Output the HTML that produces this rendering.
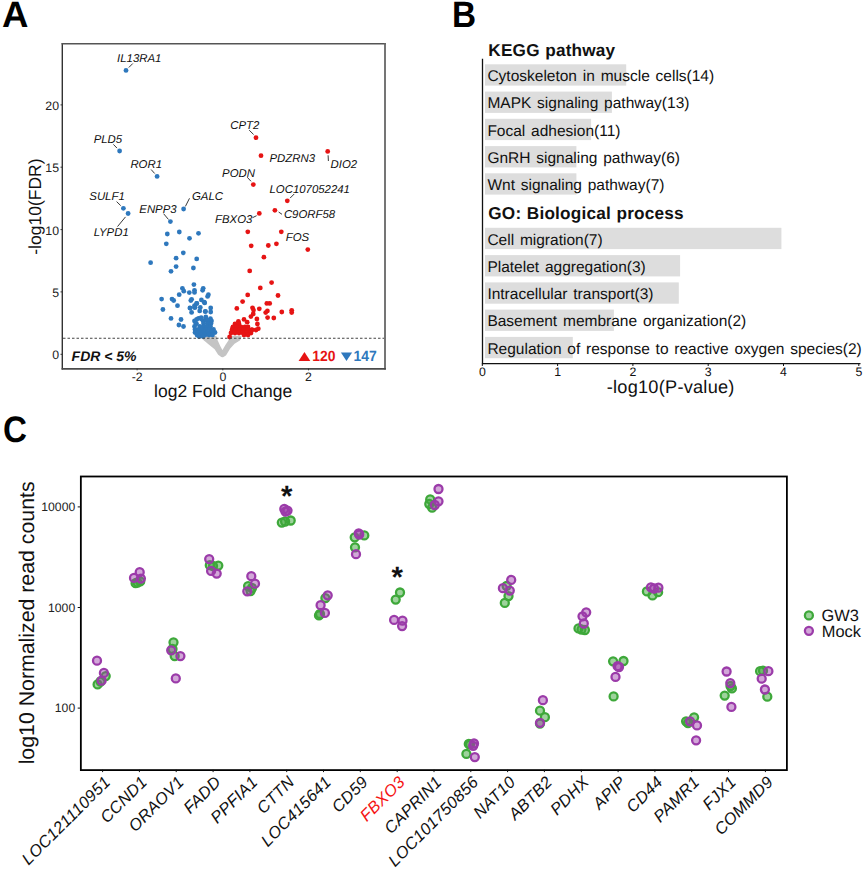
<!DOCTYPE html>
<html><head><meta charset="utf-8"><title>figure</title>
<style>
html,body{margin:0;padding:0;background:#fff;}
body{width:865px;height:870px;overflow:hidden;}
svg{display:block;font-family:"Liberation Sans",sans-serif;text-rendering:geometricPrecision;}
</style></head>
<body>
<svg width="865" height="870" viewBox="0 0 865 870">
<rect width="865" height="870" fill="#fff"/>
<text transform="translate(2.1,26.8) scale(0.995,1)" font-size="36.8" font-weight="bold">A</text>
<path d="M203.3,338.9 L205,336.2 L215.8,336.4 L217.2,341 L220,347.2 L222.4,351.7 L226.2,345.1 L229,341 L231.1,336.6 L240.8,336.6 L239.4,339.9 L233.8,343.4 L229.7,347.9 L225.5,354.8 L222.7,356.6 L221.4,356.2 L218.6,354.1 L215.1,348.6 L208.9,343.7 Z" fill="#c4c4c4" stroke="#c4c4c4" stroke-width="1.5" stroke-linejoin="round"/>
<circle cx="126" cy="70.4" r="2.4" fill="#2e78bd"/>
<circle cx="119.6" cy="151" r="2.4" fill="#2e78bd"/>
<circle cx="157.1" cy="176.4" r="2.4" fill="#2e78bd"/>
<circle cx="123.4" cy="208.3" r="2.4" fill="#2e78bd"/>
<circle cx="128.1" cy="213.5" r="2.4" fill="#2e78bd"/>
<circle cx="183.6" cy="209" r="2.4" fill="#2e78bd"/>
<circle cx="170.4" cy="221.6" r="2.4" fill="#2e78bd"/>
<circle cx="167.3" cy="234" r="2.4" fill="#2e78bd"/>
<circle cx="179.3" cy="232" r="2.4" fill="#2e78bd"/>
<circle cx="189.5" cy="238.3" r="2.4" fill="#2e78bd"/>
<circle cx="198.5" cy="233.3" r="2.4" fill="#2e78bd"/>
<circle cx="166.3" cy="243.8" r="2.4" fill="#2e78bd"/>
<circle cx="183.3" cy="252.8" r="2.4" fill="#2e78bd"/>
<circle cx="150.6" cy="262.7" r="2.4" fill="#2e78bd"/>
<circle cx="176.1" cy="258.2" r="2.4" fill="#2e78bd"/>
<circle cx="196.7" cy="258.9" r="2.4" fill="#2e78bd"/>
<circle cx="176.1" cy="266.6" r="2.4" fill="#2e78bd"/>
<circle cx="171" cy="271.3" r="2.4" fill="#2e78bd"/>
<circle cx="193.4" cy="268" r="2.4" fill="#2e78bd"/>
<circle cx="193.9" cy="284.6" r="2.4" fill="#2e78bd"/>
<circle cx="182.4" cy="288.3" r="2.4" fill="#2e78bd"/>
<circle cx="183.8" cy="291.2" r="2.4" fill="#2e78bd"/>
<circle cx="179.2" cy="294.7" r="2.4" fill="#2e78bd"/>
<circle cx="189.3" cy="292.6" r="2.4" fill="#2e78bd"/>
<circle cx="194.5" cy="290.3" r="2.4" fill="#2e78bd"/>
<circle cx="194.5" cy="292.4" r="2.4" fill="#2e78bd"/>
<circle cx="203.2" cy="288.3" r="2.4" fill="#2e78bd"/>
<circle cx="202.6" cy="290.3" r="2.4" fill="#2e78bd"/>
<circle cx="208.4" cy="294.7" r="2.4" fill="#2e78bd"/>
<circle cx="207.6" cy="296.4" r="2.4" fill="#2e78bd"/>
<circle cx="161.6" cy="299.1" r="2.4" fill="#2e78bd"/>
<circle cx="172" cy="299.1" r="2.4" fill="#2e78bd"/>
<circle cx="173.7" cy="300.5" r="2.4" fill="#2e78bd"/>
<circle cx="191.6" cy="299.3" r="2.4" fill="#2e78bd"/>
<circle cx="201.4" cy="299.9" r="2.4" fill="#2e78bd"/>
<circle cx="204.3" cy="302.2" r="2.4" fill="#2e78bd"/>
<circle cx="196.8" cy="303.4" r="2.4" fill="#2e78bd"/>
<circle cx="194.5" cy="305.7" r="2.4" fill="#2e78bd"/>
<circle cx="177.5" cy="305.7" r="2.4" fill="#2e78bd"/>
<circle cx="162.9" cy="309.5" r="2.4" fill="#2e78bd"/>
<circle cx="189.9" cy="308" r="2.4" fill="#2e78bd"/>
<circle cx="195.1" cy="307.4" r="2.4" fill="#2e78bd"/>
<circle cx="200.3" cy="307.4" r="2.4" fill="#2e78bd"/>
<circle cx="199.7" cy="310.9" r="2.4" fill="#2e78bd"/>
<circle cx="191.6" cy="312.4" r="2.4" fill="#2e78bd"/>
<circle cx="205.5" cy="311.4" r="2.4" fill="#2e78bd"/>
<circle cx="210.7" cy="308" r="2.4" fill="#2e78bd"/>
<circle cx="210.7" cy="312" r="2.4" fill="#2e78bd"/>
<circle cx="171" cy="318.4" r="2.4" fill="#2e78bd"/>
<circle cx="181" cy="319.5" r="2.4" fill="#2e78bd"/>
<circle cx="178.9" cy="325" r="2.4" fill="#2e78bd"/>
<circle cx="183.5" cy="326.5" r="2.4" fill="#2e78bd"/>
<circle cx="190.8" cy="300.6" r="2.4" fill="#2e78bd"/>
<circle cx="196.6" cy="303.5" r="2.4" fill="#2e78bd"/>
<circle cx="204.7" cy="302.9" r="2.4" fill="#2e78bd"/>
<circle cx="190.2" cy="308.1" r="2.4" fill="#2e78bd"/>
<circle cx="194.5" cy="307.5" r="2.4" fill="#2e78bd"/>
<circle cx="205.2" cy="311.6" r="2.4" fill="#2e78bd"/>
<circle cx="203.3" cy="321.2" r="2.4" fill="#2e78bd"/>
<circle cx="196.5" cy="323.8" r="2.4" fill="#2e78bd"/>
<circle cx="201.5" cy="319" r="2.4" fill="#2e78bd"/>
<circle cx="198.5" cy="318.3" r="2.4" fill="#2e78bd"/>
<circle cx="206" cy="319.5" r="2.4" fill="#2e78bd"/>
<circle cx="209" cy="320.5" r="2.4" fill="#2e78bd"/>
<circle cx="196.6" cy="319.5" r="2.4" fill="#2e78bd"/>
<circle cx="201.2" cy="317.6" r="2.4" fill="#2e78bd"/>
<circle cx="205.8" cy="317.0" r="2.4" fill="#2e78bd"/>
<circle cx="210.4" cy="318.6" r="2.4" fill="#2e78bd"/>
<circle cx="194.5" cy="321" r="2.4" fill="#2e78bd"/>
<circle cx="207.5" cy="321" r="2.4" fill="#2e78bd"/>
<circle cx="211.5" cy="321" r="2.4" fill="#2e78bd"/>
<circle cx="195.8" cy="323.5" r="2.4" fill="#2e78bd"/>
<circle cx="203.6" cy="323.5" r="2.4" fill="#2e78bd"/>
<circle cx="207.5" cy="323.5" r="2.4" fill="#2e78bd"/>
<circle cx="211" cy="323.5" r="2.4" fill="#2e78bd"/>
<circle cx="194.5" cy="326.5" r="2.4" fill="#2e78bd"/>
<circle cx="199.8" cy="326.5" r="2.4" fill="#2e78bd"/>
<circle cx="203.5" cy="326.5" r="2.4" fill="#2e78bd"/>
<circle cx="207" cy="326.5" r="2.4" fill="#2e78bd"/>
<circle cx="210.5" cy="326.5" r="2.4" fill="#2e78bd"/>
<circle cx="195" cy="329.5" r="2.4" fill="#2e78bd"/>
<circle cx="198.5" cy="329.5" r="2.4" fill="#2e78bd"/>
<circle cx="202" cy="329.5" r="2.4" fill="#2e78bd"/>
<circle cx="206" cy="329.5" r="2.4" fill="#2e78bd"/>
<circle cx="210" cy="329.5" r="2.4" fill="#2e78bd"/>
<circle cx="213.5" cy="329.5" r="2.4" fill="#2e78bd"/>
<circle cx="195" cy="332.5" r="2.4" fill="#2e78bd"/>
<circle cx="199" cy="332.5" r="2.4" fill="#2e78bd"/>
<circle cx="203" cy="332.5" r="2.4" fill="#2e78bd"/>
<circle cx="207" cy="332.5" r="2.4" fill="#2e78bd"/>
<circle cx="211" cy="332.5" r="2.4" fill="#2e78bd"/>
<circle cx="215" cy="332.5" r="2.4" fill="#2e78bd"/>
<circle cx="197" cy="335" r="2.4" fill="#2e78bd"/>
<circle cx="201" cy="335" r="2.4" fill="#2e78bd"/>
<circle cx="205" cy="335" r="2.4" fill="#2e78bd"/>
<circle cx="209" cy="335" r="2.4" fill="#2e78bd"/>
<circle cx="212.5" cy="335" r="2.4" fill="#2e78bd"/>
<circle cx="199" cy="336.5" r="2.4" fill="#2e78bd"/>
<circle cx="203" cy="336.5" r="2.4" fill="#2e78bd"/>
<circle cx="256" cy="137.7" r="2.4" fill="#e61414"/>
<circle cx="261" cy="155.7" r="2.4" fill="#e61414"/>
<circle cx="327.7" cy="151.4" r="2.4" fill="#e61414"/>
<circle cx="253.3" cy="184.6" r="2.4" fill="#e61414"/>
<circle cx="287.3" cy="200.8" r="2.4" fill="#e61414"/>
<circle cx="259.3" cy="213.4" r="2.4" fill="#e61414"/>
<circle cx="274.9" cy="210.3" r="2.4" fill="#e61414"/>
<circle cx="247.8" cy="231.8" r="2.4" fill="#e61414"/>
<circle cx="281.3" cy="231.8" r="2.4" fill="#e61414"/>
<circle cx="251.2" cy="245.8" r="2.4" fill="#e61414"/>
<circle cx="268.3" cy="245.5" r="2.4" fill="#e61414"/>
<circle cx="276.4" cy="243.8" r="2.4" fill="#e61414"/>
<circle cx="307.8" cy="249.6" r="2.4" fill="#e61414"/>
<circle cx="263.9" cy="257.2" r="2.4" fill="#e61414"/>
<circle cx="249.7" cy="270.9" r="2.4" fill="#e61414"/>
<circle cx="271.6" cy="282.6" r="2.4" fill="#e61414"/>
<circle cx="260.3" cy="287.9" r="2.4" fill="#e61414"/>
<circle cx="247.7" cy="294.9" r="2.4" fill="#e61414"/>
<circle cx="278" cy="295.5" r="2.4" fill="#e61414"/>
<circle cx="242.6" cy="301.6" r="2.4" fill="#e61414"/>
<circle cx="266.8" cy="303.4" r="2.4" fill="#e61414"/>
<circle cx="269.7" cy="303.4" r="2.4" fill="#e61414"/>
<circle cx="236.8" cy="308.4" r="2.4" fill="#e61414"/>
<circle cx="252.5" cy="307.8" r="2.4" fill="#e61414"/>
<circle cx="259.3" cy="308.8" r="2.4" fill="#e61414"/>
<circle cx="253.5" cy="310" r="2.4" fill="#e61414"/>
<circle cx="267.4" cy="310.9" r="2.4" fill="#e61414"/>
<circle cx="265.7" cy="312.6" r="2.4" fill="#e61414"/>
<circle cx="281.8" cy="312" r="2.4" fill="#e61414"/>
<circle cx="291.7" cy="310.3" r="2.4" fill="#e61414"/>
<circle cx="291.7" cy="312.6" r="2.4" fill="#e61414"/>
<circle cx="267.6" cy="317.6" r="2.4" fill="#e61414"/>
<circle cx="273.8" cy="318" r="2.4" fill="#e61414"/>
<circle cx="253.2" cy="313.9" r="2.4" fill="#e61414"/>
<circle cx="250.9" cy="316.6" r="2.4" fill="#e61414"/>
<circle cx="256.9" cy="319" r="2.4" fill="#e61414"/>
<circle cx="244" cy="319.4" r="2.4" fill="#e61414"/>
<circle cx="247.2" cy="322.2" r="2.4" fill="#e61414"/>
<circle cx="238.4" cy="321.3" r="2.4" fill="#e61414"/>
<circle cx="257.4" cy="324" r="2.4" fill="#e61414"/>
<circle cx="258.3" cy="328.7" r="2.4" fill="#e61414"/>
<circle cx="251.8" cy="329.6" r="2.4" fill="#e61414"/>
<circle cx="232.9" cy="327.3" r="2.4" fill="#e61414"/>
<circle cx="229.6" cy="337" r="2.4" fill="#e61414"/>
<circle cx="235" cy="324" r="2.4" fill="#e61414"/>
<circle cx="239" cy="324" r="2.4" fill="#e61414"/>
<circle cx="233" cy="327" r="2.4" fill="#e61414"/>
<circle cx="237" cy="327" r="2.4" fill="#e61414"/>
<circle cx="241" cy="327" r="2.4" fill="#e61414"/>
<circle cx="245" cy="327" r="2.4" fill="#e61414"/>
<circle cx="248" cy="327" r="2.4" fill="#e61414"/>
<circle cx="232" cy="330" r="2.4" fill="#e61414"/>
<circle cx="236" cy="330" r="2.4" fill="#e61414"/>
<circle cx="240" cy="330" r="2.4" fill="#e61414"/>
<circle cx="244" cy="330" r="2.4" fill="#e61414"/>
<circle cx="248" cy="330" r="2.4" fill="#e61414"/>
<circle cx="252" cy="330" r="2.4" fill="#e61414"/>
<circle cx="256" cy="330" r="2.4" fill="#e61414"/>
<circle cx="231" cy="333" r="2.4" fill="#e61414"/>
<circle cx="235" cy="333" r="2.4" fill="#e61414"/>
<circle cx="239" cy="333" r="2.4" fill="#e61414"/>
<circle cx="243" cy="333" r="2.4" fill="#e61414"/>
<circle cx="247" cy="333" r="2.4" fill="#e61414"/>
<circle cx="251" cy="333" r="2.4" fill="#e61414"/>
<circle cx="244" cy="335" r="2.4" fill="#e61414"/>
<circle cx="248" cy="335" r="2.4" fill="#e61414"/>
<line x1="63" y1="338.2" x2="384" y2="338.2" stroke="#444" stroke-width="1.1" stroke-dasharray="2.5 2"/>
<line x1="62.3" y1="43" x2="62.3" y2="369.6" stroke="#333" stroke-width="1.4"/>
<line x1="61.6" y1="43.7" x2="385.9" y2="43.7" stroke="#555" stroke-width="1.4"/>
<line x1="385" y1="43" x2="385" y2="369.6" stroke="#666" stroke-width="1.8"/>
<line x1="61.6" y1="368.9" x2="385.9" y2="368.9" stroke="#4a4a4a" stroke-width="1.8"/>
<line x1="60.5" y1="354.3" x2="62.3" y2="354.3" stroke="#333" stroke-width="1"/>
<text x="59" y="359.2" font-size="12.3" text-anchor="end" fill="#222">0</text>
<line x1="60.5" y1="291.9" x2="62.3" y2="291.9" stroke="#333" stroke-width="1"/>
<text x="59" y="296.8" font-size="12.3" text-anchor="end" fill="#222">5</text>
<line x1="60.5" y1="229.6" x2="62.3" y2="229.6" stroke="#333" stroke-width="1"/>
<text x="59" y="234.5" font-size="12.3" text-anchor="end" fill="#222">10</text>
<line x1="60.5" y1="167.2" x2="62.3" y2="167.2" stroke="#333" stroke-width="1"/>
<text x="59" y="172.2" font-size="12.3" text-anchor="end" fill="#222">15</text>
<line x1="60.5" y1="104.9" x2="62.3" y2="104.9" stroke="#333" stroke-width="1"/>
<text x="59" y="109.8" font-size="12.3" text-anchor="end" fill="#222">20</text>
<line x1="137.1" y1="368.5" x2="137.1" y2="370.3" stroke="#333" stroke-width="1"/>
<text x="137.1" y="380.8" font-size="12.3" text-anchor="middle" fill="#222">-2</text>
<line x1="222.8" y1="368.5" x2="222.8" y2="370.3" stroke="#333" stroke-width="1"/>
<text x="222.8" y="380.8" font-size="12.3" text-anchor="middle" fill="#222">0</text>
<line x1="308.5" y1="368.5" x2="308.5" y2="370.3" stroke="#333" stroke-width="1"/>
<text x="308.5" y="380.8" font-size="12.3" text-anchor="middle" fill="#222">2</text>
<text x="223.2" y="396.5" font-size="17.5" text-anchor="middle" fill="#111">log2 Fold Change</text>
<text transform="translate(40.5,206.6) rotate(-90)" font-size="17.5" text-anchor="middle" fill="#111">-log10(FDR)</text>
<text x="117.1" y="62.1" font-size="11.4" font-style="italic" fill="#111">IL13RA1</text>
<text x="93.7" y="142.5" font-size="11.4" font-style="italic" fill="#111">PLD5</text>
<text x="130.4" y="168.1" font-size="11.4" font-style="italic" fill="#111">ROR1</text>
<text x="89.3" y="200.1" font-size="11.4" font-style="italic" fill="#111">SULF1</text>
<text x="93.7" y="235.8" font-size="11.4" font-style="italic" fill="#111">LYPD1</text>
<text x="139.3" y="213.1" font-size="11.4" font-style="italic" fill="#111">ENPP3</text>
<text x="192.0" y="199.8" font-size="11.4" font-style="italic" fill="#111">GALC</text>
<text x="230.3" y="129.4" font-size="11.4" font-style="italic" fill="#111">CPT2</text>
<text x="269.5" y="162.4" font-size="11.4" font-style="italic" fill="#111">PDZRN3</text>
<text x="330.5" y="167.9" font-size="11.4" font-style="italic" fill="#111">DIO2</text>
<text x="222.1" y="177.0" font-size="11.4" font-style="italic" fill="#111">PODN</text>
<text x="269.5" y="193.4" font-size="11.4" font-style="italic" fill="#111">LOC107052241</text>
<text x="215.0" y="222.8" font-size="11.4" font-style="italic" fill="#111">FBXO3</text>
<text x="283.9" y="217.7" font-size="11.4" font-style="italic" fill="#111">C9ORF58</text>
<text x="285.8" y="240.8" font-size="11.4" font-style="italic" fill="#111">FOS</text>
<line x1="128.8" y1="67.5" x2="132.8" y2="63.5" stroke="#222" stroke-width="0.9"/>
<line x1="113.4" y1="144.4" x2="117" y2="148.1" stroke="#222" stroke-width="0.9"/>
<line x1="151.1" y1="169.5" x2="154.7" y2="173.5" stroke="#222" stroke-width="0.9"/>
<line x1="116.6" y1="201.6" x2="120.7" y2="205.6" stroke="#222" stroke-width="0.9"/>
<line x1="117.5" y1="226.6" x2="125.5" y2="216.9" stroke="#222" stroke-width="0.9"/>
<line x1="163.6" y1="213.7" x2="168.4" y2="219.4" stroke="#222" stroke-width="0.9"/>
<line x1="185.4" y1="206.4" x2="189.5" y2="198.3" stroke="#222" stroke-width="0.9"/>
<line x1="290.1" y1="198.1" x2="294.2" y2="194" stroke="#222" stroke-width="0.9"/>
<line x1="278.6" y1="212" x2="282" y2="214.3" stroke="#222" stroke-width="0.9"/>
<line x1="252.5" y1="217.7" x2="256.6" y2="215.7" stroke="#222" stroke-width="0.9"/>
<line x1="249.2" y1="130.2" x2="253.6" y2="134.5" stroke="#222" stroke-width="0.9"/>
<line x1="328.1" y1="155.3" x2="328.4" y2="161" stroke="#222" stroke-width="0.9"/>
<line x1="247.2" y1="177.2" x2="251" y2="181.3" stroke="#222" stroke-width="0.9"/>
<text x="71.6" y="360.6" font-size="14" font-weight="bold" font-style="italic" fill="#111">FDR &lt; 5%</text>
<path d="M298.6,361 L304.45,352 L310.3,361 Z" fill="#e61414"/>
<text transform="translate(312.3,360.8) scale(0.94,1)" font-size="14.8" font-weight="bold" fill="#e61414">120</text>
<path d="M340.9,352.4 L352.1,352.4 L346.5,361 Z" fill="#2e78bd"/>
<text transform="translate(353.6,360.8) scale(0.94,1)" font-size="14.8" font-weight="bold" fill="#2e78bd">147</text>
<text transform="translate(452,26.8) scale(0.905,1)" font-size="36.8" font-weight="bold">B</text>
<text x="488.3" y="55.6" font-size="17.2" font-weight="bold" letter-spacing="0.2" word-spacing="0.5" fill="#111">KEGG pathway</text>
<rect x="485" y="64.3" width="141.2" height="21.3" fill="#dddddd"/>
<rect x="485" y="91.6" width="126.9" height="21.3" fill="#dddddd"/>
<rect x="485" y="118.8" width="106.1" height="21.3" fill="#dddddd"/>
<rect x="485" y="146.1" width="91.4" height="21.3" fill="#dddddd"/>
<rect x="485" y="173.3" width="91.4" height="21.3" fill="#dddddd"/>
<text x="488.3" y="219.2" font-size="17.2" font-weight="bold" letter-spacing="0.2" word-spacing="0.5" fill="#111">GO: Biological process</text>
<rect x="485" y="227.8" width="296.4" height="21.3" fill="#dddddd"/>
<rect x="485" y="255.1" width="195.1" height="21.3" fill="#dddddd"/>
<rect x="485" y="282.4" width="193.8" height="21.3" fill="#dddddd"/>
<rect x="485" y="309.6" width="128.9" height="21.3" fill="#dddddd"/>
<rect x="485" y="336.9" width="87.8" height="21.3" fill="#dddddd"/>
<text x="487.4" y="81.1" font-size="15.5" word-spacing="1.5" fill="#111">Cytoskeleton in muscle cells(14)</text>
<text x="487.4" y="108.3" font-size="15.5" word-spacing="1.5" fill="#111">MAPK signaling pathway(13)</text>
<text x="487.4" y="135.6" font-size="15.5" word-spacing="1.5" fill="#111">Focal adhesion(11)</text>
<text x="487.4" y="162.8" font-size="15.5" word-spacing="1.5" fill="#111">GnRH signaling pathway(6)</text>
<text x="487.4" y="190.1" font-size="15.5" word-spacing="1.5" fill="#111">Wnt signaling pathway(7)</text>
<text x="487.4" y="244.6" font-size="15.5" word-spacing="1.5" fill="#111">Cell migration(7)</text>
<text x="487.4" y="271.9" font-size="15.5" word-spacing="1.5" fill="#111">Platelet aggregation(3)</text>
<text x="487.4" y="299.1" font-size="15.5" word-spacing="1.5" fill="#111">Intracellular transport(3)</text>
<text x="487.4" y="326.4" font-size="15.5" word-spacing="1.5" fill="#111">Basement membrane organization(2)</text>
<text x="487.4" y="353.6" font-size="15.5" word-spacing="1.5" fill="#111">Regulation of response to reactive oxygen species(2)</text>
<line x1="482.5" y1="58.7" x2="482.5" y2="364.3" stroke="#111" stroke-width="1.3"/>
<line x1="481.9" y1="363.7" x2="860.5" y2="363.7" stroke="#111" stroke-width="1.3"/>
<line x1="482.3" y1="363.7" x2="482.3" y2="366" stroke="#111" stroke-width="1"/>
<text x="482.3" y="376.3" font-size="12.3" text-anchor="middle" fill="#111">0</text>
<line x1="557.6" y1="363.7" x2="557.6" y2="366" stroke="#111" stroke-width="1"/>
<text x="557.6" y="376.3" font-size="12.3" text-anchor="middle" fill="#111">1</text>
<line x1="632.9" y1="363.7" x2="632.9" y2="366" stroke="#111" stroke-width="1"/>
<text x="632.9" y="376.3" font-size="12.3" text-anchor="middle" fill="#111">2</text>
<line x1="708.2" y1="363.7" x2="708.2" y2="366" stroke="#111" stroke-width="1"/>
<text x="708.2" y="376.3" font-size="12.3" text-anchor="middle" fill="#111">3</text>
<line x1="783.5" y1="363.7" x2="783.5" y2="366" stroke="#111" stroke-width="1"/>
<text x="783.5" y="376.3" font-size="12.3" text-anchor="middle" fill="#111">4</text>
<line x1="858.8" y1="363.7" x2="858.8" y2="366" stroke="#111" stroke-width="1"/>
<text x="858.8" y="376.3" font-size="12.3" text-anchor="middle" fill="#111">5</text>
<text x="670.7" y="392.7" font-size="18.2" letter-spacing="0.24" text-anchor="middle" fill="#111">-log10(P-value)</text>
<text transform="translate(3,441.9) scale(0.9,1)" font-size="36.8" font-weight="bold">C</text>
<circle cx="97.6" cy="684.4" r="4.0" fill="#3ea83a" fill-opacity="0.5" stroke="#3ea83a" stroke-width="2.3"/>
<circle cx="100.5" cy="681.5" r="4.0" fill="#3ea83a" fill-opacity="0.5" stroke="#3ea83a" stroke-width="2.3"/>
<circle cx="105.7" cy="676.1" r="4.0" fill="#3ea83a" fill-opacity="0.5" stroke="#3ea83a" stroke-width="2.3"/>
<circle cx="97" cy="660.7" r="4.0" fill="#9b3ba9" fill-opacity="0.45" stroke="#9b3ba9" stroke-width="2.3"/>
<circle cx="103.9" cy="672.9" r="4.0" fill="#9b3ba9" fill-opacity="0.45" stroke="#9b3ba9" stroke-width="2.3"/>
<circle cx="101.6" cy="680.7" r="4.0" fill="#9b3ba9" fill-opacity="0.45" stroke="#9b3ba9" stroke-width="2.3"/>
<circle cx="135.6" cy="583.2" r="4.0" fill="#3ea83a" fill-opacity="0.5" stroke="#3ea83a" stroke-width="2.3"/>
<circle cx="140.2" cy="581.4" r="4.0" fill="#3ea83a" fill-opacity="0.5" stroke="#3ea83a" stroke-width="2.3"/>
<circle cx="137.5" cy="582.5" r="4.0" fill="#3ea83a" fill-opacity="0.5" stroke="#3ea83a" stroke-width="2.3"/>
<circle cx="139.7" cy="572.2" r="4.0" fill="#9b3ba9" fill-opacity="0.45" stroke="#9b3ba9" stroke-width="2.3"/>
<circle cx="134" cy="577.9" r="4.0" fill="#9b3ba9" fill-opacity="0.45" stroke="#9b3ba9" stroke-width="2.3"/>
<circle cx="140.9" cy="578.6" r="4.0" fill="#9b3ba9" fill-opacity="0.45" stroke="#9b3ba9" stroke-width="2.3"/>
<circle cx="173.5" cy="642.3" r="4.0" fill="#3ea83a" fill-opacity="0.5" stroke="#3ea83a" stroke-width="2.3"/>
<circle cx="174.7" cy="656.1" r="4.0" fill="#3ea83a" fill-opacity="0.5" stroke="#3ea83a" stroke-width="2.3"/>
<circle cx="172.5" cy="649" r="4.0" fill="#3ea83a" fill-opacity="0.5" stroke="#3ea83a" stroke-width="2.3"/>
<circle cx="171.2" cy="650.3" r="4.0" fill="#9b3ba9" fill-opacity="0.45" stroke="#9b3ba9" stroke-width="2.3"/>
<circle cx="180.4" cy="656.1" r="4.0" fill="#9b3ba9" fill-opacity="0.45" stroke="#9b3ba9" stroke-width="2.3"/>
<circle cx="175.8" cy="678.4" r="4.0" fill="#9b3ba9" fill-opacity="0.45" stroke="#9b3ba9" stroke-width="2.3"/>
<circle cx="209.8" cy="565.2" r="4.0" fill="#3ea83a" fill-opacity="0.5" stroke="#3ea83a" stroke-width="2.3"/>
<circle cx="218.3" cy="565.6" r="4.0" fill="#3ea83a" fill-opacity="0.5" stroke="#3ea83a" stroke-width="2.3"/>
<circle cx="213" cy="566" r="4.0" fill="#3ea83a" fill-opacity="0.5" stroke="#3ea83a" stroke-width="2.3"/>
<circle cx="209.2" cy="559.1" r="4.0" fill="#9b3ba9" fill-opacity="0.45" stroke="#9b3ba9" stroke-width="2.3"/>
<circle cx="211.1" cy="570.9" r="4.0" fill="#9b3ba9" fill-opacity="0.45" stroke="#9b3ba9" stroke-width="2.3"/>
<circle cx="216.7" cy="573.6" r="4.0" fill="#9b3ba9" fill-opacity="0.45" stroke="#9b3ba9" stroke-width="2.3"/>
<circle cx="248.1" cy="586.1" r="4.0" fill="#3ea83a" fill-opacity="0.5" stroke="#3ea83a" stroke-width="2.3"/>
<circle cx="250.5" cy="591" r="4.0" fill="#3ea83a" fill-opacity="0.5" stroke="#3ea83a" stroke-width="2.3"/>
<circle cx="252" cy="588" r="4.0" fill="#3ea83a" fill-opacity="0.5" stroke="#3ea83a" stroke-width="2.3"/>
<circle cx="251.3" cy="576.2" r="4.0" fill="#9b3ba9" fill-opacity="0.45" stroke="#9b3ba9" stroke-width="2.3"/>
<circle cx="255" cy="583.7" r="4.0" fill="#9b3ba9" fill-opacity="0.45" stroke="#9b3ba9" stroke-width="2.3"/>
<circle cx="247.3" cy="591.3" r="4.0" fill="#9b3ba9" fill-opacity="0.45" stroke="#9b3ba9" stroke-width="2.3"/>
<circle cx="281.8" cy="522.6" r="4.0" fill="#3ea83a" fill-opacity="0.5" stroke="#3ea83a" stroke-width="2.3"/>
<circle cx="285.1" cy="521.5" r="4.0" fill="#3ea83a" fill-opacity="0.5" stroke="#3ea83a" stroke-width="2.3"/>
<circle cx="290.7" cy="520.5" r="4.0" fill="#3ea83a" fill-opacity="0.5" stroke="#3ea83a" stroke-width="2.3"/>
<circle cx="284.3" cy="508.9" r="4.0" fill="#9b3ba9" fill-opacity="0.45" stroke="#9b3ba9" stroke-width="2.3"/>
<circle cx="287.5" cy="510.6" r="4.0" fill="#9b3ba9" fill-opacity="0.45" stroke="#9b3ba9" stroke-width="2.3"/>
<circle cx="285.5" cy="511.5" r="4.0" fill="#9b3ba9" fill-opacity="0.45" stroke="#9b3ba9" stroke-width="2.3"/>
<circle cx="325.4" cy="598.1" r="4.0" fill="#3ea83a" fill-opacity="0.5" stroke="#3ea83a" stroke-width="2.3"/>
<circle cx="319" cy="615.4" r="4.0" fill="#3ea83a" fill-opacity="0.5" stroke="#3ea83a" stroke-width="2.3"/>
<circle cx="320" cy="614" r="4.0" fill="#3ea83a" fill-opacity="0.5" stroke="#3ea83a" stroke-width="2.3"/>
<circle cx="327.7" cy="595.3" r="4.0" fill="#9b3ba9" fill-opacity="0.45" stroke="#9b3ba9" stroke-width="2.3"/>
<circle cx="320.6" cy="605.2" r="4.0" fill="#9b3ba9" fill-opacity="0.45" stroke="#9b3ba9" stroke-width="2.3"/>
<circle cx="324.9" cy="612.9" r="4.0" fill="#9b3ba9" fill-opacity="0.45" stroke="#9b3ba9" stroke-width="2.3"/>
<circle cx="364.3" cy="535.4" r="4.0" fill="#3ea83a" fill-opacity="0.5" stroke="#3ea83a" stroke-width="2.3"/>
<circle cx="354.7" cy="537.3" r="4.0" fill="#3ea83a" fill-opacity="0.5" stroke="#3ea83a" stroke-width="2.3"/>
<circle cx="355" cy="547.3" r="4.0" fill="#3ea83a" fill-opacity="0.5" stroke="#3ea83a" stroke-width="2.3"/>
<circle cx="358.7" cy="533.3" r="4.0" fill="#9b3ba9" fill-opacity="0.45" stroke="#9b3ba9" stroke-width="2.3"/>
<circle cx="359.2" cy="534.5" r="4.0" fill="#9b3ba9" fill-opacity="0.45" stroke="#9b3ba9" stroke-width="2.3"/>
<circle cx="356" cy="554.2" r="4.0" fill="#9b3ba9" fill-opacity="0.45" stroke="#9b3ba9" stroke-width="2.3"/>
<circle cx="400" cy="592.5" r="4.0" fill="#3ea83a" fill-opacity="0.5" stroke="#3ea83a" stroke-width="2.3"/>
<circle cx="395.7" cy="599.6" r="4.0" fill="#3ea83a" fill-opacity="0.5" stroke="#3ea83a" stroke-width="2.3"/>
<circle cx="394.1" cy="619.9" r="4.0" fill="#9b3ba9" fill-opacity="0.45" stroke="#9b3ba9" stroke-width="2.3"/>
<circle cx="402.5" cy="620.7" r="4.0" fill="#9b3ba9" fill-opacity="0.45" stroke="#9b3ba9" stroke-width="2.3"/>
<circle cx="402.1" cy="626.1" r="4.0" fill="#9b3ba9" fill-opacity="0.45" stroke="#9b3ba9" stroke-width="2.3"/>
<circle cx="430.2" cy="499.4" r="4.0" fill="#3ea83a" fill-opacity="0.5" stroke="#3ea83a" stroke-width="2.3"/>
<circle cx="429.3" cy="504" r="4.0" fill="#3ea83a" fill-opacity="0.5" stroke="#3ea83a" stroke-width="2.3"/>
<circle cx="432.1" cy="507.7" r="4.0" fill="#3ea83a" fill-opacity="0.5" stroke="#3ea83a" stroke-width="2.3"/>
<circle cx="438.5" cy="489" r="4.0" fill="#9b3ba9" fill-opacity="0.45" stroke="#9b3ba9" stroke-width="2.3"/>
<circle cx="438.5" cy="501.3" r="4.0" fill="#9b3ba9" fill-opacity="0.45" stroke="#9b3ba9" stroke-width="2.3"/>
<circle cx="434.8" cy="505" r="4.0" fill="#9b3ba9" fill-opacity="0.45" stroke="#9b3ba9" stroke-width="2.3"/>
<circle cx="468.8" cy="743.9" r="4.0" fill="#3ea83a" fill-opacity="0.5" stroke="#3ea83a" stroke-width="2.3"/>
<circle cx="466.4" cy="753.9" r="4.0" fill="#3ea83a" fill-opacity="0.5" stroke="#3ea83a" stroke-width="2.3"/>
<circle cx="470" cy="744.5" r="4.0" fill="#3ea83a" fill-opacity="0.5" stroke="#3ea83a" stroke-width="2.3"/>
<circle cx="474" cy="743.5" r="4.0" fill="#9b3ba9" fill-opacity="0.45" stroke="#9b3ba9" stroke-width="2.3"/>
<circle cx="473.2" cy="745.8" r="4.0" fill="#9b3ba9" fill-opacity="0.45" stroke="#9b3ba9" stroke-width="2.3"/>
<circle cx="474.8" cy="757.1" r="4.0" fill="#9b3ba9" fill-opacity="0.45" stroke="#9b3ba9" stroke-width="2.3"/>
<circle cx="506.6" cy="586" r="4.0" fill="#3ea83a" fill-opacity="0.5" stroke="#3ea83a" stroke-width="2.3"/>
<circle cx="508.5" cy="596.1" r="4.0" fill="#3ea83a" fill-opacity="0.5" stroke="#3ea83a" stroke-width="2.3"/>
<circle cx="504.8" cy="602.9" r="4.0" fill="#3ea83a" fill-opacity="0.5" stroke="#3ea83a" stroke-width="2.3"/>
<circle cx="511.2" cy="579.9" r="4.0" fill="#9b3ba9" fill-opacity="0.45" stroke="#9b3ba9" stroke-width="2.3"/>
<circle cx="502.9" cy="588.2" r="4.0" fill="#9b3ba9" fill-opacity="0.45" stroke="#9b3ba9" stroke-width="2.3"/>
<circle cx="509.8" cy="590.6" r="4.0" fill="#9b3ba9" fill-opacity="0.45" stroke="#9b3ba9" stroke-width="2.3"/>
<circle cx="540" cy="710.7" r="4.0" fill="#3ea83a" fill-opacity="0.5" stroke="#3ea83a" stroke-width="2.3"/>
<circle cx="544.9" cy="717.2" r="4.0" fill="#3ea83a" fill-opacity="0.5" stroke="#3ea83a" stroke-width="2.3"/>
<circle cx="540" cy="723.5" r="4.0" fill="#3ea83a" fill-opacity="0.5" stroke="#3ea83a" stroke-width="2.3"/>
<circle cx="542.9" cy="700.2" r="4.0" fill="#9b3ba9" fill-opacity="0.45" stroke="#9b3ba9" stroke-width="2.3"/>
<circle cx="540" cy="722.8" r="4.0" fill="#9b3ba9" fill-opacity="0.45" stroke="#9b3ba9" stroke-width="2.3"/>
<circle cx="578.5" cy="628.4" r="4.0" fill="#3ea83a" fill-opacity="0.5" stroke="#3ea83a" stroke-width="2.3"/>
<circle cx="584.9" cy="630" r="4.0" fill="#3ea83a" fill-opacity="0.5" stroke="#3ea83a" stroke-width="2.3"/>
<circle cx="581.5" cy="629.5" r="4.0" fill="#3ea83a" fill-opacity="0.5" stroke="#3ea83a" stroke-width="2.3"/>
<circle cx="586.2" cy="612.3" r="4.0" fill="#9b3ba9" fill-opacity="0.45" stroke="#9b3ba9" stroke-width="2.3"/>
<circle cx="582.5" cy="616.3" r="4.0" fill="#9b3ba9" fill-opacity="0.45" stroke="#9b3ba9" stroke-width="2.3"/>
<circle cx="583.8" cy="623.5" r="4.0" fill="#9b3ba9" fill-opacity="0.45" stroke="#9b3ba9" stroke-width="2.3"/>
<circle cx="613.1" cy="661.3" r="4.0" fill="#3ea83a" fill-opacity="0.5" stroke="#3ea83a" stroke-width="2.3"/>
<circle cx="623.5" cy="661" r="4.0" fill="#3ea83a" fill-opacity="0.5" stroke="#3ea83a" stroke-width="2.3"/>
<circle cx="613.6" cy="696.4" r="4.0" fill="#3ea83a" fill-opacity="0.5" stroke="#3ea83a" stroke-width="2.3"/>
<circle cx="617.6" cy="666.2" r="4.0" fill="#9b3ba9" fill-opacity="0.45" stroke="#9b3ba9" stroke-width="2.3"/>
<circle cx="619" cy="667" r="4.0" fill="#9b3ba9" fill-opacity="0.45" stroke="#9b3ba9" stroke-width="2.3"/>
<circle cx="615.5" cy="676.9" r="4.0" fill="#9b3ba9" fill-opacity="0.45" stroke="#9b3ba9" stroke-width="2.3"/>
<circle cx="646.9" cy="591.4" r="4.0" fill="#3ea83a" fill-opacity="0.5" stroke="#3ea83a" stroke-width="2.3"/>
<circle cx="652.5" cy="595.4" r="4.0" fill="#3ea83a" fill-opacity="0.5" stroke="#3ea83a" stroke-width="2.3"/>
<circle cx="658.1" cy="592.2" r="4.0" fill="#3ea83a" fill-opacity="0.5" stroke="#3ea83a" stroke-width="2.3"/>
<circle cx="650.9" cy="587.3" r="4.0" fill="#9b3ba9" fill-opacity="0.45" stroke="#9b3ba9" stroke-width="2.3"/>
<circle cx="658.4" cy="587.7" r="4.0" fill="#9b3ba9" fill-opacity="0.45" stroke="#9b3ba9" stroke-width="2.3"/>
<circle cx="654" cy="588.5" r="4.0" fill="#9b3ba9" fill-opacity="0.45" stroke="#9b3ba9" stroke-width="2.3"/>
<circle cx="694.1" cy="717.3" r="4.0" fill="#3ea83a" fill-opacity="0.5" stroke="#3ea83a" stroke-width="2.3"/>
<circle cx="686.1" cy="721.3" r="4.0" fill="#3ea83a" fill-opacity="0.5" stroke="#3ea83a" stroke-width="2.3"/>
<circle cx="688" cy="723" r="4.0" fill="#3ea83a" fill-opacity="0.5" stroke="#3ea83a" stroke-width="2.3"/>
<circle cx="690.1" cy="721.3" r="4.0" fill="#9b3ba9" fill-opacity="0.45" stroke="#9b3ba9" stroke-width="2.3"/>
<circle cx="697" cy="725.4" r="4.0" fill="#9b3ba9" fill-opacity="0.45" stroke="#9b3ba9" stroke-width="2.3"/>
<circle cx="696.1" cy="740.3" r="4.0" fill="#9b3ba9" fill-opacity="0.45" stroke="#9b3ba9" stroke-width="2.3"/>
<circle cx="731.9" cy="688.4" r="4.0" fill="#3ea83a" fill-opacity="0.5" stroke="#3ea83a" stroke-width="2.3"/>
<circle cx="724.7" cy="695.6" r="4.0" fill="#3ea83a" fill-opacity="0.5" stroke="#3ea83a" stroke-width="2.3"/>
<circle cx="730.5" cy="686" r="4.0" fill="#3ea83a" fill-opacity="0.5" stroke="#3ea83a" stroke-width="2.3"/>
<circle cx="726.6" cy="671.5" r="4.0" fill="#9b3ba9" fill-opacity="0.45" stroke="#9b3ba9" stroke-width="2.3"/>
<circle cx="730.3" cy="683.1" r="4.0" fill="#9b3ba9" fill-opacity="0.45" stroke="#9b3ba9" stroke-width="2.3"/>
<circle cx="731.4" cy="706.9" r="4.0" fill="#9b3ba9" fill-opacity="0.45" stroke="#9b3ba9" stroke-width="2.3"/>
<circle cx="760.1" cy="671.2" r="4.0" fill="#3ea83a" fill-opacity="0.5" stroke="#3ea83a" stroke-width="2.3"/>
<circle cx="763" cy="670.7" r="4.0" fill="#3ea83a" fill-opacity="0.5" stroke="#3ea83a" stroke-width="2.3"/>
<circle cx="767.3" cy="696.7" r="4.0" fill="#3ea83a" fill-opacity="0.5" stroke="#3ea83a" stroke-width="2.3"/>
<circle cx="768.4" cy="671.2" r="4.0" fill="#9b3ba9" fill-opacity="0.45" stroke="#9b3ba9" stroke-width="2.3"/>
<circle cx="761.7" cy="678.7" r="4.0" fill="#9b3ba9" fill-opacity="0.45" stroke="#9b3ba9" stroke-width="2.3"/>
<circle cx="764.9" cy="689.5" r="4.0" fill="#9b3ba9" fill-opacity="0.45" stroke="#9b3ba9" stroke-width="2.3"/>
<rect x="80.85" y="476.5" width="706.05" height="293.6" fill="none" stroke="#000" stroke-width="1.8"/>
<line x1="77.7" y1="506.9" x2="80.4" y2="506.9" stroke="#111" stroke-width="1"/>
<text x="75.2" y="511.2" font-size="12.2" text-anchor="end" fill="#222">10000</text>
<line x1="77.7" y1="607.5" x2="80.4" y2="607.5" stroke="#111" stroke-width="1"/>
<text x="75.2" y="611.8" font-size="12.2" text-anchor="end" fill="#222">1000</text>
<line x1="77.7" y1="708.1" x2="80.4" y2="708.1" stroke="#111" stroke-width="1"/>
<text x="75.2" y="712.4" font-size="12.2" text-anchor="end" fill="#222">100</text>
<line x1="102.6" y1="769.8" x2="102.6" y2="772.1" stroke="#111" stroke-width="1"/>
<text transform="translate(111.3,783.0) rotate(-45)" x="0" y="0" font-size="16.5" letter-spacing="0.25" font-style="italic" text-anchor="end" fill="#111">LOC121110951</text>
<line x1="139.4" y1="769.8" x2="139.4" y2="772.1" stroke="#111" stroke-width="1"/>
<text transform="translate(148.1,783.0) rotate(-45)" x="0" y="0" font-size="16.5" letter-spacing="0.25" font-style="italic" text-anchor="end" fill="#111">CCND1</text>
<line x1="176.2" y1="769.8" x2="176.2" y2="772.1" stroke="#111" stroke-width="1"/>
<text transform="translate(184.9,783.0) rotate(-45)" x="0" y="0" font-size="16.5" letter-spacing="0.25" font-style="italic" text-anchor="end" fill="#111">ORAOV1</text>
<line x1="213.1" y1="769.8" x2="213.1" y2="772.1" stroke="#111" stroke-width="1"/>
<text transform="translate(221.8,783.0) rotate(-45)" x="0" y="0" font-size="16.5" letter-spacing="0.25" font-style="italic" text-anchor="end" fill="#111">FADD</text>
<line x1="249.9" y1="769.8" x2="249.9" y2="772.1" stroke="#111" stroke-width="1"/>
<text transform="translate(258.6,783.0) rotate(-45)" x="0" y="0" font-size="16.5" letter-spacing="0.25" font-style="italic" text-anchor="end" fill="#111">PPFIA1</text>
<line x1="286.7" y1="769.8" x2="286.7" y2="772.1" stroke="#111" stroke-width="1"/>
<text transform="translate(295.4,783.0) rotate(-45)" x="0" y="0" font-size="16.5" letter-spacing="0.25" font-style="italic" text-anchor="end" fill="#111">CTTN</text>
<line x1="323.5" y1="769.8" x2="323.5" y2="772.1" stroke="#111" stroke-width="1"/>
<text transform="translate(332.2,783.0) rotate(-45)" x="0" y="0" font-size="16.5" letter-spacing="0.25" font-style="italic" text-anchor="end" fill="#111">LOC415641</text>
<line x1="360.3" y1="769.8" x2="360.3" y2="772.1" stroke="#111" stroke-width="1"/>
<text transform="translate(369.0,783.0) rotate(-45)" x="0" y="0" font-size="16.5" letter-spacing="0.25" font-style="italic" text-anchor="end" fill="#111">CD59</text>
<line x1="397.2" y1="769.8" x2="397.2" y2="772.1" stroke="#111" stroke-width="1"/>
<text transform="translate(405.9,783.0) rotate(-45)" x="0" y="0" font-size="16.5" letter-spacing="0.25" font-style="italic" text-anchor="end" fill="#f51414">FBXO3</text>
<line x1="434.0" y1="769.8" x2="434.0" y2="772.1" stroke="#111" stroke-width="1"/>
<text transform="translate(442.7,783.0) rotate(-45)" x="0" y="0" font-size="16.5" letter-spacing="0.25" font-style="italic" text-anchor="end" fill="#111">CAPRIN1</text>
<line x1="470.8" y1="769.8" x2="470.8" y2="772.1" stroke="#111" stroke-width="1"/>
<text transform="translate(479.5,783.0) rotate(-45)" x="0" y="0" font-size="16.5" letter-spacing="0.25" font-style="italic" text-anchor="end" fill="#111">LOC101750856</text>
<line x1="507.6" y1="769.8" x2="507.6" y2="772.1" stroke="#111" stroke-width="1"/>
<text transform="translate(516.3,783.0) rotate(-45)" x="0" y="0" font-size="16.5" letter-spacing="0.25" font-style="italic" text-anchor="end" fill="#111">NAT10</text>
<line x1="544.4" y1="769.8" x2="544.4" y2="772.1" stroke="#111" stroke-width="1"/>
<text transform="translate(553.1,783.0) rotate(-45)" x="0" y="0" font-size="16.5" letter-spacing="0.25" font-style="italic" text-anchor="end" fill="#111">ABTB2</text>
<line x1="581.3" y1="769.8" x2="581.3" y2="772.1" stroke="#111" stroke-width="1"/>
<text transform="translate(590.0,783.0) rotate(-45)" x="0" y="0" font-size="16.5" letter-spacing="0.25" font-style="italic" text-anchor="end" fill="#111">PDHX</text>
<line x1="618.1" y1="769.8" x2="618.1" y2="772.1" stroke="#111" stroke-width="1"/>
<text transform="translate(626.8,783.0) rotate(-45)" x="0" y="0" font-size="16.5" letter-spacing="0.25" font-style="italic" text-anchor="end" fill="#111">APIP</text>
<line x1="654.9" y1="769.8" x2="654.9" y2="772.1" stroke="#111" stroke-width="1"/>
<text transform="translate(663.6,783.0) rotate(-45)" x="0" y="0" font-size="16.5" letter-spacing="0.25" font-style="italic" text-anchor="end" fill="#111">CD44</text>
<line x1="691.7" y1="769.8" x2="691.7" y2="772.1" stroke="#111" stroke-width="1"/>
<text transform="translate(700.4,783.0) rotate(-45)" x="0" y="0" font-size="16.5" letter-spacing="0.25" font-style="italic" text-anchor="end" fill="#111">PAMR1</text>
<line x1="728.5" y1="769.8" x2="728.5" y2="772.1" stroke="#111" stroke-width="1"/>
<text transform="translate(737.2,783.0) rotate(-45)" x="0" y="0" font-size="16.5" letter-spacing="0.25" font-style="italic" text-anchor="end" fill="#111">FJX1</text>
<line x1="765.4" y1="769.8" x2="765.4" y2="772.1" stroke="#111" stroke-width="1"/>
<text transform="translate(774.1,783.0) rotate(-45)" x="0" y="0" font-size="16.5" letter-spacing="0.25" font-style="italic" text-anchor="end" fill="#111">COMMD9</text>
<text transform="translate(34,622.9) rotate(-90)" font-size="21.3" text-anchor="middle" fill="#111">log10 Normalized read counts</text>
<text x="286.8" y="505.5" font-size="29.4" font-weight="bold" text-anchor="middle" fill="#111">*</text>
<text x="397.3" y="587" font-size="29.4" font-weight="bold" text-anchor="middle" fill="#111">*</text>
<circle cx="808.9" cy="615.4" r="4.0" fill="#3ea83a" fill-opacity="0.5" stroke="#3ea83a" stroke-width="2.3"/>
<circle cx="808.9" cy="630.8" r="4.0" fill="#9b3ba9" fill-opacity="0.45" stroke="#9b3ba9" stroke-width="2.3"/>
<text x="821.5" y="621.2" font-size="16.4" fill="#111">GW3</text>
<text x="821.8" y="636.8" font-size="16.4" fill="#111">Mock</text>
</svg>
</body></html>
